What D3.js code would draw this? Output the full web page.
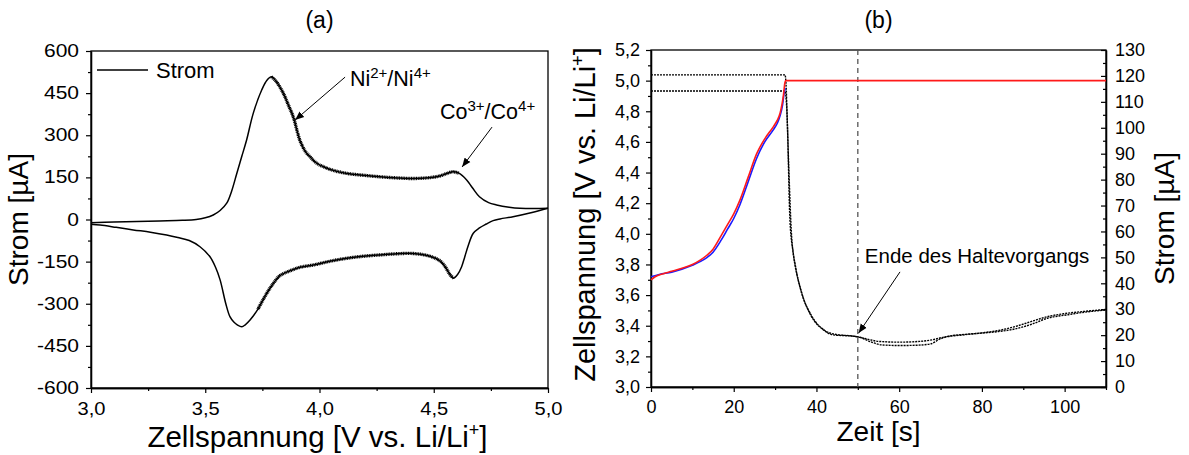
<!DOCTYPE html>
<html><head><meta charset="utf-8">
<script src="https://cdn.jsdelivr.net/npm/d3@7"></script>
<style>
body{margin:0;background:#fff}
svg{display:block}
text{font-family:"Liberation Sans",Arial,sans-serif;fill:#000}
</style>
</head><body>
<svg id="c" width="1189" height="455"></svg>
<script>
// ---------- Panel (a): cyclic voltammogram ----------
const cvXTicks = [3.0, 3.5, 4.0, 4.5, 5.0];
const cvYTicks = [-600, -450, -300, -150, 0, 150, 300, 450, 600];
// anodic branch (V, µA)
const cvAnodic = [[3.00,-12],[3.10,-9],[3.20,-7],[3.30,-5],[3.40,-3],[3.46,0],[3.50,6],[3.535,16],[3.565,32],[3.594,58],[3.615,100],[3.638,164],[3.66,225],[3.681,283],[3.71,378],[3.747,461],[3.77,496],[3.79,508],[3.81,492],[3.842,449],[3.865,405],[3.885,366],[3.915,280],[3.94,240],[3.958,224],[3.985,202],[4.017,188],[4.06,175],[4.12,164],[4.2,157],[4.265,152],[4.34,148],[4.41,146],[4.48,149],[4.527,155],[4.56,165],[4.585,170],[4.61,165],[4.644,141],[4.67,112],[4.70,81],[4.74,60],[4.775,52],[4.83,44],[4.877,40],[4.94,39],[5.0,40]];
// cathodic branch (V, µA)
const cvCathodic = [[5.0,40],[4.93,25],[4.847,10],[4.79,2],[4.76,-4],[4.73,-16],[4.70,-30],[4.673,-49],[4.65,-95],[4.635,-135],[4.622,-168],[4.605,-195],[4.586,-209],[4.57,-195],[4.55,-168],[4.527,-147],[4.48,-130],[4.41,-121],[4.34,-122],[4.265,-126],[4.19,-131],[4.119,-138],[4.05,-148],[3.973,-162],[3.915,-170],[3.87,-183],[3.827,-200],[3.80,-225],[3.769,-263],[3.73,-320],[3.696,-358],[3.675,-375],[3.66,-382],[3.64,-375],[3.625,-365],[3.608,-346],[3.59,-300],[3.565,-215],[3.545,-170],[3.52,-132],[3.477,-97],[3.43,-75],[3.38,-64],[3.331,-55],[3.26,-45],[3.185,-37],[3.11,-28],[3.04,-20],[3.0,-17]];

// ---------- Panel (b): potentiostatic hold ----------
const tTicks = [0, 20, 40, 60, 80, 100];
const uTicks = [3.0, 3.2, 3.4, 3.6, 3.8, 4.0, 4.2, 4.4, 4.6, 4.8, 5.0, 5.2];
const iTicks = [0,10,20,30,40,50,60,70,80,90,100,110,120,130];
const voltRed = [[0,3.70],[1,3.72],[3,3.74],[5,3.755],[7.5,3.775],[10,3.80],[12,3.83],[13.5,3.86],[15,3.90],[17,3.99],[18.5,4.06],[20,4.13],[21.5,4.22],[23.5,4.37],[25.5,4.52],[27.5,4.62],[29.6,4.70],[30.5,4.74],[31.2,4.787],[31.7,4.85],[32,4.90],[32.4,4.99],[32.6,5.0],[110,5.0]];
const voltBlue = [[0,3.72],[2,3.735],[5,3.75],[10,3.795],[12,3.82],[13.5,3.845],[15,3.88],[17,3.96],[18.5,4.03],[20,4.10],[21.5,4.19],[23.5,4.34],[25.5,4.49],[27.5,4.60],[29.6,4.68],[30.5,4.72],[31.2,4.77],[31.8,4.84],[32.2,4.92],[32.5,4.95]];
const current1 = [[0,120.4],[32.4,120.4],[32.6,118],[33,100],[33.6,64],[34.4,51.6],[36,38.7],[38.4,28.4],[41.7,22],[44,20.1],[48.9,19.6],[50.5,19.2],[53,17.5],[56,16.2],[60,16.0],[64,16.1],[67.5,16.6],[70,18.6],[72,19.6],[76,20.3],[80,20.8],[84,21.4],[88,22.4],[92,24.2],[96,26.6],[100.5,27.8],[105,28.9],[110,29.7]];
const current2 = [[0,114.2],[32.4,114.2],[32.8,108],[33.3,85],[34,58],[35,46],[36.5,36],[39,27],[42,21.8],[45,20.2],[49,19.6],[52,18.6],[55,17.6],[60,17.3],[65,17.6],[68,18.2],[71,19.3],[76,20.2],[80,20.9],[84,21.8],[88,23.3],[92,25.3],[96,27.2],[100,28.3],[105,29.2],[110,29.9]];
const holdEnd = 50;

const svg = d3.select("#c");
const comma = d => d.toFixed(1).replace(".", ",");
const FONT = '"Liberation Sans",Arial,sans-serif';

svg.append("defs").append("marker")
  .attr("id","arr").attr("viewBox","0 0 10 10").attr("refX",10).attr("refY",5)
  .attr("markerWidth",9).attr("markerHeight",9).attr("markerUnits","userSpaceOnUse")
  .attr("orient","auto")
  .append("path").attr("d","M0,1 L10,5 L0,9 Z").attr("fill","#000");

function styleAxis(g, fs){
  g.selectAll("path.domain").attr("stroke","#000").attr("stroke-width",1.3);
  g.selectAll("line").attr("stroke","#000").attr("stroke-width",1.2);
  g.selectAll("text").attr("font-size",fs).attr("font-family",FONT).attr("fill","#000");
}
function minors(ticks){
  const m=[]; for(let i=0;i<ticks.length-1;i++) m.push((ticks[i]+ticks[i+1])/2); return m;
}
// text with superscripts; no empty spans
function supText(g,x,y,fs,parts){
  const t=g.append("text").attr("x",x).attr("y",y).attr("font-size",fs);
  const raise=fs*0.36; let cur=0;
  parts.forEach(p=>{
    const target = p.sup ? -raise : 0;
    const s=t.append("tspan").attr("dy",target-cur).text(p.s);
    if(p.sup) s.attr("font-size",fs*0.7);
    cur=target;
  });
  return t;
}

// ================= Panel (a) =================
const A = {l:91, r:548, t:51, b:388};
const xA = d3.scaleLinear().domain([3.0,5.0]).range([A.l,A.r]);
const yA = d3.scaleLinear().domain([-600,600]).range([A.b,A.t]);
const gA = svg.append("g");

gA.append("rect").attr("x",A.l).attr("y",A.t).attr("width",A.r-A.l).attr("height",A.b-A.t)
  .attr("fill","none").attr("stroke","#000").attr("stroke-width",1.3);

let ax = gA.append("g").attr("transform",`translate(0,${A.b})`)
  .call(d3.axisBottom(xA).tickValues(cvXTicks).tickFormat(comma).tickSize(5).tickSizeOuter(0).tickPadding(10));
styleAxis(ax,17.5);
ax.selectAll("text").attr("transform","scale(1.15,1)");
let axm = gA.append("g").attr("transform",`translate(0,${A.b})`)
  .call(d3.axisBottom(xA).tickValues(minors(cvXTicks)).tickFormat("").tickSize(3).tickSizeOuter(0));
styleAxis(axm,17);

let ay = gA.append("g").attr("transform",`translate(${A.l},0)`)
  .call(d3.axisLeft(yA).tickValues(cvYTicks).tickFormat(d=>String(d)).tickSize(5).tickSizeOuter(0).tickPadding(5));
styleAxis(ay,17.5);
ay.selectAll("text").attr("transform","scale(1.2,1)");
let aym = gA.append("g").attr("transform",`translate(${A.l},0)`)
  .call(d3.axisLeft(yA).tickValues(minors(cvYTicks)).tickFormat("").tickSize(3).tickSizeOuter(0));
styleAxis(aym,17);

const curveA = d3.line().x(d=>xA(d[0])).y(d=>yA(d[1])).curve(d3.curveCatmullRom);
gA.append("path").datum(cvAnodic).attr("d",curveA).attr("fill","none").attr("stroke","#000").attr("stroke-width",1.5);
gA.append("path").datum(cvCathodic).attr("d",curveA).attr("fill","none").attr("stroke","#000").attr("stroke-width",1.5);
// measurement ripple drawn as a thicker, broken stroke over the same data
gA.append("path").datum(cvAnodic.filter(d=>d[0]>=3.78&&d[0]<=4.62)).attr("d",curveA)
  .attr("fill","none").attr("stroke","#000").attr("stroke-width",3.4).attr("stroke-dasharray","1,0.7");
gA.append("path").datum(cvCathodic.filter(d=>d[0]>=3.70&&d[0]<=4.60)).attr("d",curveA)
  .attr("fill","none").attr("stroke","#000").attr("stroke-width",3.4).attr("stroke-dasharray","1,0.7");

// legend
gA.append("line").attr("x1",A.l+6).attr("x2",A.l+57).attr("y1",A.t+19).attr("y2",A.t+19).attr("stroke","#000").attr("stroke-width",1.5);
gA.append("text").attr("x",A.l+65).attr("y",A.t+27).attr("font-size",22).text("Strom");

// annotations
supText(gA,xA(4.133),yA(475),21.5,[{s:"Ni"},{s:"2+",sup:1},{s:"/Ni"},{s:"4+",sup:1}]);
gA.append("line").attr("x1",xA(4.112)).attr("y1",yA(507)).attr("x2",xA(3.893)).attr("y2",yA(354))
  .attr("stroke","#000").attr("stroke-width",1).attr("marker-end","url(#arr)");
supText(gA,xA(4.527),yA(358),21.5,[{s:"Co"},{s:"3+",sup:1},{s:"/Co"},{s:"4+",sup:1}]);
gA.append("line").attr("x1",xA(4.755)).attr("y1",yA(329)).attr("x2",xA(4.624)).attr("y2",yA(187))
  .attr("stroke","#000").attr("stroke-width",1).attr("marker-end","url(#arr)");

// title & axis labels
gA.append("text").attr("x",(A.l+A.r)/2).attr("y",28).attr("text-anchor","middle").attr("font-size",23).text("(a)");
gA.append("text").attr("transform",`translate(${A.l-63},${(A.t+A.b)/2}) rotate(-90)`).attr("text-anchor","middle").attr("font-size",28).text("Strom [µA]");
{
  const t=gA.append("text").attr("x",(A.l+A.r)/2-2).attr("y",447).attr("text-anchor","middle").attr("font-size",29.5);
  t.append("tspan").text("Zellspannung [V vs. Li/Li");
  t.append("tspan").attr("dy",-11).attr("font-size",18).text("+");
  t.append("tspan").attr("dy",11).text("]");
}

// ================= Panel (b) =================
const B = {l:651, r:1106, t:50, b:387};
const xB = d3.scaleLinear().domain([0,110]).range([B.l,B.r]);
const yB = d3.scaleLinear().domain([3.0,5.2]).range([B.b,B.t]);
const yI = d3.scaleLinear().domain([0,130]).range([B.b,B.t]);
const gB = svg.append("g");

gB.append("rect").attr("x",B.l).attr("y",B.t).attr("width",B.r-B.l).attr("height",B.b-B.t)
  .attr("fill","none").attr("stroke","#000").attr("stroke-width",1.3);

let bx = gB.append("g").attr("transform",`translate(0,${B.b})`)
  .call(d3.axisBottom(xB).tickValues(tTicks).tickFormat(d=>String(d)).tickSize(5).tickSizeOuter(0).tickPadding(8));
styleAxis(bx,18);
let bxm = gB.append("g").attr("transform",`translate(0,${B.b})`)
  .call(d3.axisBottom(xB).tickValues([10,30,50,70,90,110]).tickFormat("").tickSize(3).tickSizeOuter(0));
styleAxis(bxm,18);

let byl = gB.append("g").attr("transform",`translate(${B.l},0)`)
  .call(d3.axisLeft(yB).tickValues(uTicks).tickFormat(comma).tickSize(5).tickSizeOuter(0).tickPadding(6));
styleAxis(byl,18);
let bylm = gB.append("g").attr("transform",`translate(${B.l},0)`)
  .call(d3.axisLeft(yB).tickValues(minors(uTicks)).tickFormat("").tickSize(3).tickSizeOuter(0));
styleAxis(bylm,18);

let byr = gB.append("g").attr("transform",`translate(${B.r},0)`)
  .call(d3.axisRight(yI).tickValues(iTicks).tickFormat(d=>String(d)).tickSize(-5).tickSizeOuter(0).tickPadding(9));
styleAxis(byr,18);
let byrm = gB.append("g").attr("transform",`translate(${B.r},0)`)
  .call(d3.axisRight(yI).tickValues(minors(iTicks)).tickFormat("").tickSize(-3).tickSizeOuter(0));
styleAxis(byrm,18);

// hold-end marker
gB.append("line").attr("x1",xB(holdEnd)).attr("x2",xB(holdEnd)).attr("y1",B.t).attr("y2",B.b)
  .attr("stroke","#555").attr("stroke-width",1.3).attr("stroke-dasharray","5,4");

const lineU = d3.line().x(d=>xB(d[0])).y(d=>yB(d[1])).curve(d3.curveMonotoneX);
const lineI = d3.line().x(d=>xB(d[0])).y(d=>yI(d[1])).curve(d3.curveMonotoneX);
gB.append("path").datum(current1).attr("d",lineI).attr("fill","none").attr("stroke","#000").attr("stroke-width",1.4).attr("stroke-dasharray","2,1");
gB.append("path").datum(current2).attr("d",lineI).attr("fill","none").attr("stroke","#000").attr("stroke-width",1.4).attr("stroke-dasharray","2,1");
gB.append("path").datum(voltBlue).attr("d",lineU).attr("fill","none").attr("stroke","#1a1aff").attr("stroke-width",1.6);
gB.append("path").datum(voltRed).attr("d",lineU).attr("fill","none").attr("stroke","#ff1a1a").attr("stroke-width",1.6);

// annotation
gB.append("text").attr("x",xB(51.7)).attr("y",yI(47.8)).attr("font-size",20.5).text("Ende des Haltevorgangs");
gB.append("line").attr("x1",xB(60.2)).attr("y1",yI(44.4)).attr("x2",xB(50.2)).attr("y2",yI(20.8))
  .attr("stroke","#000").attr("stroke-width",1).attr("marker-end","url(#arr)");

// titles & labels
gB.append("text").attr("x",(B.l+B.r)/2).attr("y",28).attr("text-anchor","middle").attr("font-size",23).text("(b)");
gB.append("text").attr("x",(B.l+B.r)/2).attr("y",441).attr("text-anchor","middle").attr("font-size",28).text("Zeit [s]");
{
  const t=gB.append("text").attr("transform",`translate(${B.l-56},${(B.t+B.b)/2-4}) rotate(-90)`).attr("text-anchor","middle").attr("font-size",29);
  t.append("tspan").text("Zellspannung [V vs. Li/Li");
  t.append("tspan").attr("dy",-11).attr("font-size",18).text("+");
  t.append("tspan").attr("dy",11).text("]");
}
gB.append("text").attr("transform",`translate(${B.r+68},${(B.t+B.b)/2}) rotate(-90)`).attr("text-anchor","middle").attr("font-size",28).text("Strom [µA]");
</script>
</body></html>
